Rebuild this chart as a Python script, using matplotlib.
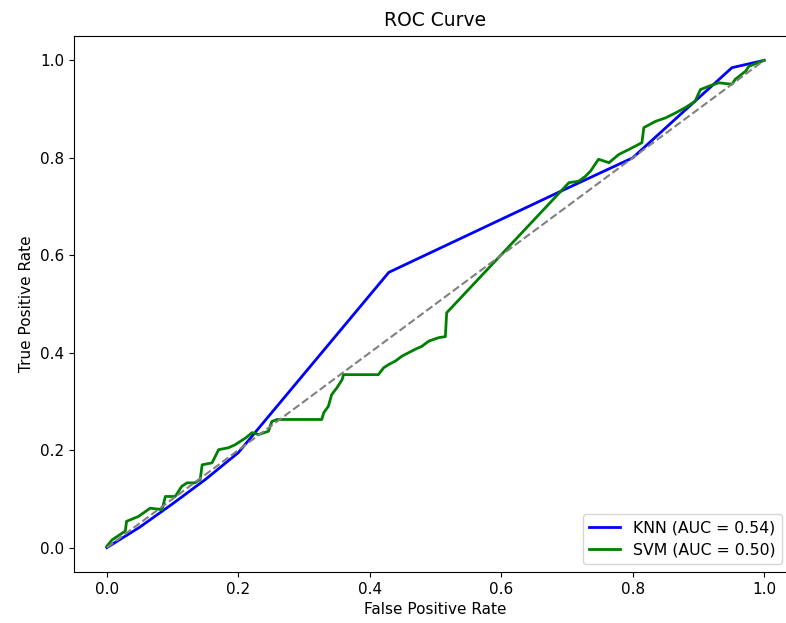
import matplotlib
matplotlib.use("Agg")
import matplotlib.pyplot as plt

# KNN curve (few thresholds)
knn_fpr = [0.0, 0.05, 0.10, 0.15, 0.20, 0.429, 0.69, 0.80, 0.951, 1.0]
knn_tpr = [0.0, 0.042, 0.090, 0.140, 0.195, 0.565, 0.731, 0.800, 0.985, 1.0]

# SVM curve (stepped)
svm_fpr = [0.0, 0.008, 0.028, 0.030, 0.048, 0.066, 0.084, 0.089, 0.104, 0.114,
           0.122, 0.134, 0.142, 0.145, 0.160, 0.170, 0.185, 0.195, 0.211, 0.221,
           0.231, 0.246, 0.251, 0.259, 0.327, 0.330, 0.337, 0.342, 0.350, 0.358,
           0.360, 0.413, 0.421, 0.429, 0.439, 0.449, 0.459, 0.469, 0.479, 0.490,
           0.505, 0.515, 0.517, 0.703, 0.718, 0.728, 0.736, 0.748, 0.764, 0.779,
           0.794, 0.804, 0.814, 0.817, 0.835, 0.850, 0.865, 0.880, 0.895, 0.903,
           0.916, 0.931, 0.951, 0.956, 0.972, 0.977, 1.0]
svm_tpr = [0.003, 0.016, 0.034, 0.054, 0.064, 0.081, 0.078, 0.105, 0.105, 0.126,
           0.133, 0.133, 0.140, 0.170, 0.174, 0.201, 0.205, 0.211, 0.225, 0.236,
           0.232, 0.239, 0.259, 0.263, 0.263, 0.277, 0.290, 0.314, 0.328, 0.345,
           0.355, 0.355, 0.369, 0.376, 0.383, 0.393, 0.400, 0.407, 0.413, 0.424,
           0.431, 0.433, 0.482, 0.749, 0.752, 0.762, 0.773, 0.797, 0.790, 0.807,
           0.817, 0.824, 0.831, 0.862, 0.875, 0.882, 0.892, 0.903, 0.916, 0.940,
           0.947, 0.954, 0.951, 0.961, 0.978, 0.988, 1.0]

knn_auc = 0.54
svm_auc = 0.50

fig = plt.figure(figsize=(7.86, 6.23), dpi=100)
# the source picture is cut off on the right, axes run past the edge
ax = fig.add_axes([74 / 786, 51 / 623, 723 / 786, 536 / 623])

ax.plot(knn_fpr, knn_tpr, color="blue", lw=2, label=f"KNN (AUC = {knn_auc:.2f})")
ax.plot(svm_fpr, svm_tpr, color="green", lw=2, label=f"SVM (AUC = {svm_auc:.2f})")
ax.plot([0, 1], [0, 1], color="gray", linestyle="--", lw=1.5)

ax.set_title("ROC Curve", fontsize=13.5, pad=7)
ax.set_xlabel("False Positive Rate", fontsize=11)
ax.set_ylabel("True Positive Rate", fontsize=11)
ax.tick_params(labelsize=11)
ax.spines["right"].set_visible(False)
ax.legend(loc="lower right", bbox_to_anchor=(0.99, 0.0), fontsize=11.3)

fig.savefig("out.png", dpi=100)
